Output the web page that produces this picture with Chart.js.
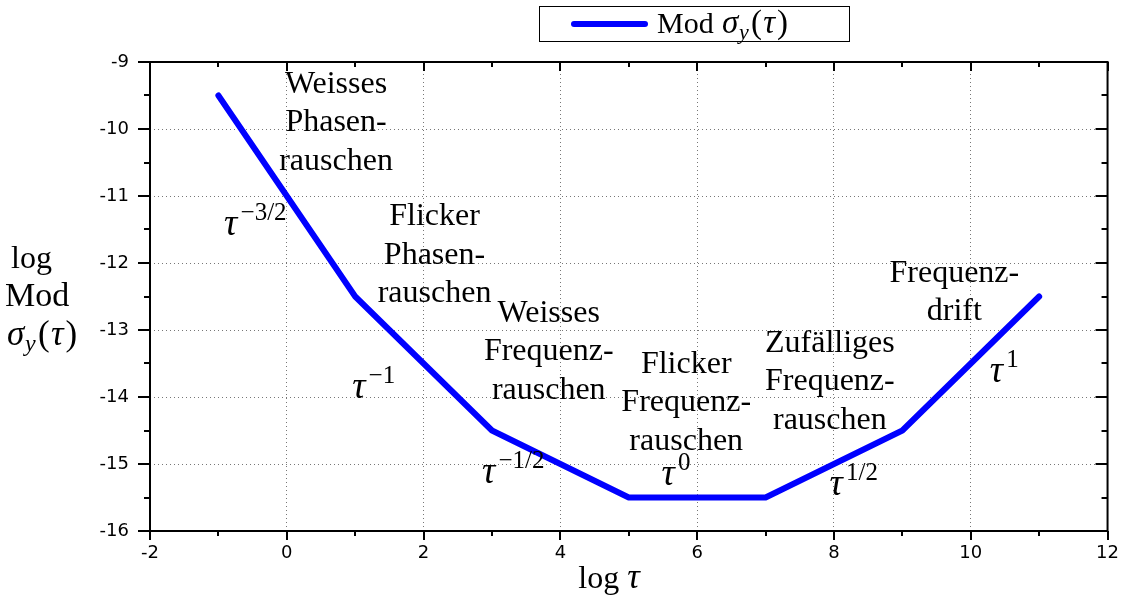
<!DOCTYPE html>
<html><head><meta charset="utf-8">
<script src="https://cdn.jsdelivr.net/npm/chart.js@4.4.1/dist/chart.umd.min.js"></script>
<style>html,body{margin:0;padding:0;background:#fff;}#wrap{width:1131px;height:608px;}</style>
</head><body><div id="wrap"><canvas id="c" width="1131" height="608"></canvas></div>
<script>
// ---- data ----
const logTau = [-1, 1, 3, 5, 7, 9, 11];
const logModSigmaY = [-9.5, -12.5, -14.5, -15.5, -15.5, -14.5, -12.5];
const xTickValues = [-2, 0, 2, 4, 6, 8, 10, 12];
const yTickValues = [-16, -15, -14, -13, -12, -11, -10, -9];
const regionTexts = [
  ['Weisses', 'Phasen-', 'rauschen'],
  ['Flicker', 'Phasen-', 'rauschen'],
  ['Weisses', 'Frequenz-', 'rauschen'],
  ['Flicker', 'Frequenz-', 'rauschen'],
  ['Zufälliges', 'Frequenz-', 'rauschen'],
  ['Frequenz-', 'drift']
];
const regionAnchorX = [0.72, 2.16, 3.83, 5.84, 7.94, 9.76];
const regionAnchorY = [-9.458, -11.44, -12.878, -13.639, -13.326, -12.281];
const slopeExponents = ['−3/2', '−1', '−1/2', '0', '1/2', '1'];
const slopeAnchorX = [-0.46, 1.27, 3.31, 5.69, 8.29, 10.49];
const slopeAnchorY = [-11.579, -14.013, -15.283, -15.313, -15.462, -13.774];

const SERIF = '"Liberation Serif", "Times New Roman", serif';
const SANS = '"DejaVu Sans", Arial, sans-serif';

function drawMath(ctx, parts, x, y, align, base) {
  let w = 0;
  const m = parts.map(p => {
    const f = (p.it ? 'italic ' : '') + Math.round(base * (p.s || 1)) + 'px ' + SERIF;
    ctx.font = f;
    const pw = ctx.measureText(p.t).width + (p.gap || 0) * base;
    w += pw;
    return { f, pw };
  });
  let cx = align === 'center' ? x - w / 2 : x;
  ctx.textAlign = 'left';
  ctx.textBaseline = 'alphabetic';
  parts.forEach((p, i) => {
    ctx.font = m[i].f;
    ctx.fillText(p.t, cx, y + (p.dy || 0) * base);
    cx += m[i].pw;
  });
}

function sigmaParts() {
  return [
    { t: 'σ', it: true, s: 1.1, gap: 0.02 },
    { t: 'y', it: true, s: 0.74, dy: 0.2, gap: 0.08 },
    { t: '(', s: 1.1, gap: 0.04 },
    { t: 'τ', it: true, s: 1.1, gap: 0.06 },
    { t: ')', s: 1.1 }
  ];
}

const decor = {
  id: 'decor',
  afterDraw(chart) {
    const ctx = chart.ctx, a = chart.chartArea;
    const xs = chart.scales.x, ys = chart.scales.y;
    ctx.save();
    ctx.strokeStyle = '#000';
    ctx.fillStyle = '#000';
    ctx.lineWidth = 2;
    ctx.setLineDash([]);
    ctx.strokeRect(a.left, a.top, a.right - a.left, a.bottom - a.top);
    ctx.beginPath();
    for (let v = -2; v <= 12; v += 1) {
      const px = Math.round(xs.getPixelForValue(v));
      const L = (v % 2 === 0) ? 9 : 5;
      ctx.moveTo(px, a.bottom); ctx.lineTo(px, a.bottom + L);
      ctx.moveTo(px, a.top); ctx.lineTo(px, a.top + L);
    }
    for (let v = -16; v <= -9; v += 0.5) {
      const py = Math.round(ys.getPixelForValue(v));
      const L = Number.isInteger(v) ? 12 : 6;
      ctx.moveTo(a.left, py); ctx.lineTo(a.left - L, py);
      ctx.moveTo(a.right, py); ctx.lineTo(a.right - L, py);
    }
    ctx.stroke();

    // region labels
    regionTexts.forEach((lines, i) => {
      const px = xs.getPixelForValue(regionAnchorX[i]);
      const py = ys.getPixelForValue(regionAnchorY[i]);
      lines.forEach((t, j) => {
        ctx.font = '32px ' + SERIF;
        ctx.textAlign = 'center';
        ctx.textBaseline = 'alphabetic';
        ctx.fillText(t, px, py + j * 38.5);
      });
    });
    // slope labels
    slopeExponents.forEach((e, i) => {
      const px = xs.getPixelForValue(slopeAnchorX[i]);
      const py = ys.getPixelForValue(slopeAnchorY[i]);
      drawMath(ctx, [{ t: 'τ', it: true, s: 1.15, gap: 0.1 }, { t: e, s: 0.78, dy: -0.47 }], px, py, 'center', 32);
    });

    // axis titles
    ctx.textAlign = 'left';
    ctx.font = '32px ' + SERIF;
    ctx.fillText('log', 11, 268);
    ctx.font = '34px ' + SERIF;
    ctx.fillText('Mod', 5, 306);
    drawMath(ctx, sigmaParts(), 7, 345, 'left', 32);
    drawMath(ctx, [{ t: 'log', gap: 0.25 }, { t: 'τ', it: true, s: 1.1 }], 609, 588, 'center', 32);

    // legend
    ctx.lineWidth = 1;
    ctx.strokeStyle = '#000';
    ctx.strokeRect(539.5, 6.5, 310, 35);
    ctx.strokeStyle = '#0000ff';
    ctx.lineWidth = 6;
    ctx.lineCap = 'round';
    ctx.beginPath();
    ctx.moveTo(574, 24); ctx.lineTo(645, 24);
    ctx.stroke();
    ctx.fillStyle = '#000';
    drawMath(ctx, [{ t: 'Mod', gap: 0.28 }].concat(sigmaParts()), 657, 33, 'left', 30);
    ctx.restore();
  }
};

new Chart(document.getElementById('c'), {
  type: 'scatter',
  data: {
    datasets: [{
      label: 'Mod σy(τ)',
      data: logTau.map((x, i) => ({ x, y: logModSigmaY[i] })),
      showLine: true,
      borderColor: '#0000ff',
      backgroundColor: '#0000ff',
      borderWidth: 6,
      borderCapStyle: 'round',
      borderJoinStyle: 'round',
      pointRadius: 0,
      tension: 0
    }]
  },
  options: {
    responsive: false,
    animation: false,
    devicePixelRatio: 1,
    layout: { padding: { top: 62, right: 20, left: 0, bottom: 0 } },
    plugins: { legend: { display: false }, tooltip: { enabled: false } },
    scales: {
      x: {
        type: 'linear', min: -2, max: 12,
        afterBuildTicks: s => { s.ticks = xTickValues.map(v => ({ value: v })); },
        afterFit: s => { s.height = 77; },
        border: { display: false, dash: [1, 3] },
        grid: { drawTicks: false, color: '#777', lineWidth: 1 },
        ticks: { padding: 12, color: '#000', font: { family: SANS, size: 18 }, callback: v => String(v) }
      },
      y: {
        type: 'linear', min: -16, max: -9,
        afterBuildTicks: s => { s.ticks = yTickValues.map(v => ({ value: v })); },
        afterFit: s => { s.width = 150; },
        border: { display: false, dash: [1, 3] },
        grid: { drawTicks: false, color: '#777', lineWidth: 1 },
        ticks: { padding: 21, color: '#000', font: { family: SANS, size: 18 }, callback: v => String(v) }
      }
    }
  },
  plugins: [decor]
});
</script></body></html>
